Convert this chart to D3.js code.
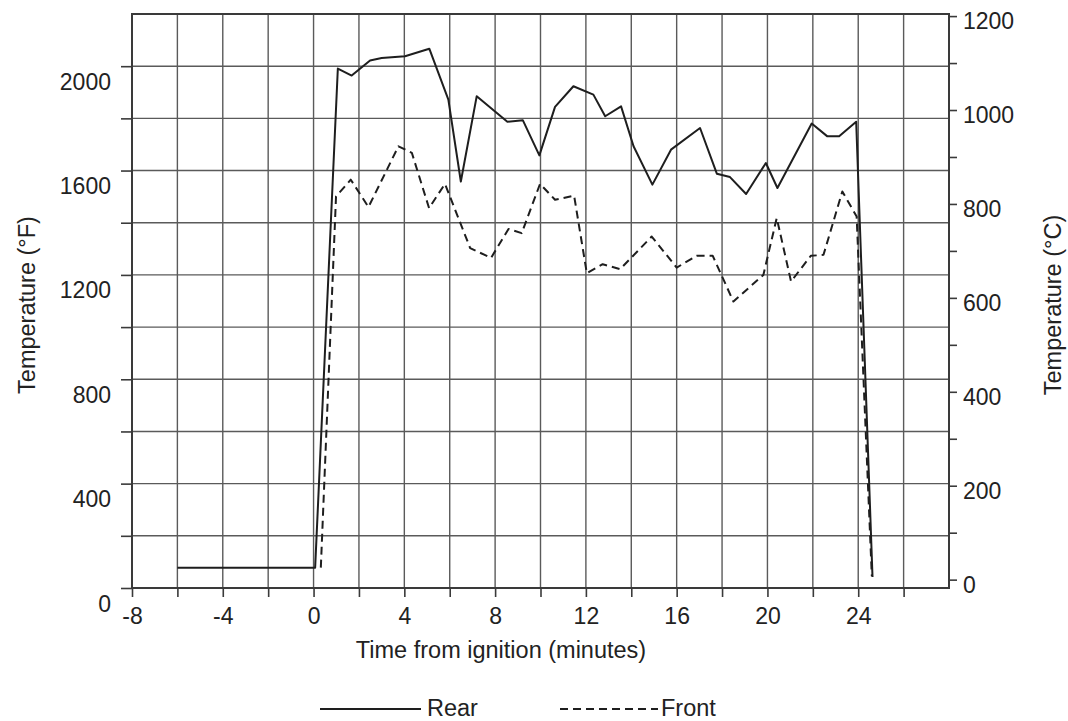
<!DOCTYPE html>
<html>
<head>
<meta charset="utf-8">
<script src="https://cdn.jsdelivr.net/npm/d3@7"></script>
<style>
  html, body { margin: 0; padding: 0; background: #fff; }
  svg { display: block; font-family: "Liberation Sans", Arial, sans-serif; }
</style>
</head>
<body>
<svg id="chart" width="1068" height="721"></svg>
<script>
// ---- Data ----
const rearTime = [-6, 0.07, 1.07, 1.68, 2.49, 3.0, 4.03, 5.1, 5.94, 6.49, 7.19, 8.54, 9.22, 9.95, 10.64, 11.45, 12.33, 12.85, 13.55, 14.1, 14.93, 15.75, 17.03, 17.77, 18.35, 19.06, 19.93, 20.44, 21.95, 22.64, 23.16, 23.91, 24.63];
const rearTemp = [78, 78, 1991, 1964, 2022, 2031, 2038, 2067, 1872, 1558, 1885, 1787, 1793, 1658, 1844, 1923, 1891, 1808, 1846, 1693, 1546, 1680, 1763, 1588, 1575, 1510, 1629, 1533, 1780, 1731, 1731, 1787, 42];

const frontTime = [0.32, 0.99, 1.64, 2.42, 3.74, 4.33, 5.09, 5.79, 6.9, 7.82, 8.59, 9.17, 9.98, 10.64, 11.48, 12.04, 12.74, 13.51, 14.9, 16.0, 16.88, 17.59, 18.5, 19.82, 20.41, 21.04, 21.91, 22.47, 23.3, 23.93, 24.6];
const frontTemp = [78, 1501, 1565, 1460, 1693, 1668, 1456, 1549, 1303, 1265, 1376, 1360, 1549, 1488, 1504, 1207, 1241, 1222, 1347, 1228, 1273, 1273, 1098, 1200, 1418, 1175, 1273, 1277, 1520, 1424, 45];

const xTickValues = [-8, -6, -4, -2, 0, 2, 4, 6, 8, 10, 12, 14, 16, 18, 20, 22, 24, 26];
const xTickLabels = [-8, -4, 0, 4, 8, 12, 16, 20, 24];
const yFTicks = [0, 200, 400, 600, 800, 1000, 1200, 1400, 1600, 1800, 2000];
const yFLabels = [0, 400, 800, 1200, 1600, 2000];
const yCTicks = [0, 100, 200, 300, 400, 500, 600, 700, 800, 900, 1000, 1100, 1200];
const yCLabels = [0, 200, 400, 600, 800, 1000, 1200];

const xTitle = "Time from ignition (minutes)";
const yLeftTitle = "Temperature (°F)";
const yRightTitle = "Temperature (°C)";
const seriesNames = ["Rear", "Front"];

// ---- Layout ----
const pLeft = 132, pRight = 949, pTop = 14, pBottom = 588;
const svg = d3.select("#chart");

const x = d3.scaleLinear().domain([-8, 28]).range([pLeft, pRight]);
const yF = d3.scaleLinear().domain([0, 2200]).range([pBottom, pTop]);
const yC = d3.scaleLinear().domain([(0 - 32) / 1.8, (2200 - 32) / 1.8]).range([pBottom, pTop]);

const gridColor = "#5a5a5a";
const lineColor = "#1e1e1e";
const textColor = "#222";

// Grid
const grid = svg.append("g");
grid.selectAll("line.v").data(d3.range(-6, 28, 2)).join("line").attr("class", "v")
  .attr("x1", d => x(d)).attr("x2", d => x(d))
  .attr("y1", pTop).attr("y2", pBottom)
  .attr("stroke", gridColor).attr("stroke-width", 1.4);
grid.selectAll("line.h").data(d3.range(200, 2200, 200)).join("line").attr("class", "h")
  .attr("x1", pLeft).attr("x2", pRight)
  .attr("y1", d => yF(d)).attr("y2", d => yF(d))
  .attr("stroke", gridColor).attr("stroke-width", 1.4);

// Frame
svg.append("rect").attr("x", pLeft).attr("y", pTop)
  .attr("width", pRight - pLeft).attr("height", pBottom - pTop)
  .attr("fill", "none").attr("stroke", "#3a3a3a").attr("stroke-width", 2);

// X axis
const xAxis = d3.axisBottom(x).tickValues(xTickValues).tickSize(9).tickSizeOuter(0)
  .tickFormat(d => xTickLabels.includes(d) ? d : "");
const gx = svg.append("g").attr("transform", `translate(0,${pBottom})`).call(xAxis);
gx.select(".domain").remove();
gx.selectAll(".tick line").attr("stroke", "#3a3a3a").attr("stroke-width", 1.6);
gx.selectAll(".tick text").attr("fill", textColor).attr("font-size", 23).attr("dy", "1.05em")
  .style("font-family", '"Liberation Sans", Arial, sans-serif');

// Left axis (°F)
const yAxisL = d3.axisLeft(yF).tickValues(yFTicks).tickSize(11).tickSizeOuter(0)
  .tickFormat(d => yFLabels.includes(d) ? d : "");
const gyl = svg.append("g").attr("transform", `translate(${pLeft},0)`).call(yAxisL);
gyl.select(".domain").remove();
gyl.selectAll(".tick line").attr("stroke", "#3a3a3a").attr("stroke-width", 1.6);
gyl.selectAll(".tick text").attr("fill", textColor).attr("font-size", 23)
  .attr("x", -21).attr("dy", "1.0em")
  .style("font-family", '"Liberation Sans", Arial, sans-serif');

// Right axis (°C)
const yAxisR = d3.axisRight(yC).tickValues(yCTicks).tickSize(8).tickSizeOuter(0)
  .tickFormat(d => yCLabels.includes(d) ? d : "");
const gyr = svg.append("g").attr("transform", `translate(${pRight},0)`).call(yAxisR);
gyr.select(".domain").remove();
gyr.selectAll(".tick line").attr("stroke", "#3a3a3a").attr("stroke-width", 1.6);
gyr.selectAll(".tick text").attr("fill", textColor).attr("font-size", 23)
  .attr("x", 14).attr("dy", "0.55em")
  .style("font-family", '"Liberation Sans", Arial, sans-serif');

// Titles
svg.append("text").attr("x", 501).attr("y", 658).attr("text-anchor", "middle")
  .attr("font-size", 23.5).attr("fill", textColor).text(xTitle);
svg.append("text").attr("transform", "translate(35,305) rotate(-90)")
  .attr("text-anchor", "middle").attr("font-size", 23.5).attr("fill", textColor).text(yLeftTitle);
svg.append("text").attr("transform", "translate(1061,305) rotate(-90)")
  .attr("text-anchor", "middle").attr("font-size", 23.5).attr("fill", textColor).text(yRightTitle);

// Series
const line = d3.line().x(d => x(d[0])).y(d => yF(d[1]));
const rear = rearTime.map((t, i) => [t, rearTemp[i]]);
const front = frontTime.map((t, i) => [t, frontTemp[i]]);

svg.append("path").datum(front).attr("d", line)
  .attr("fill", "none").attr("stroke", lineColor).attr("stroke-width", 2)
  .attr("stroke-dasharray", "8,5").attr("stroke-linejoin", "round");
svg.append("path").datum(rear).attr("d", line)
  .attr("fill", "none").attr("stroke", lineColor).attr("stroke-width", 2)
  .attr("stroke-linejoin", "round");

// Legend
const lg = svg.append("g");
lg.append("line").attr("x1", 320).attr("x2", 421).attr("y1", 709).attr("y2", 709)
  .attr("stroke", lineColor).attr("stroke-width", 2.2);
lg.append("text").attr("x", 427).attr("y", 716).attr("font-size", 23.5).attr("fill", textColor).text(seriesNames[0]);
lg.append("line").attr("x1", 560).attr("x2", 658).attr("y1", 709).attr("y2", 709)
  .attr("stroke", lineColor).attr("stroke-width", 2.2).attr("stroke-dasharray", "8,5");
lg.append("text").attr("x", 661).attr("y", 716).attr("font-size", 23.5).attr("fill", textColor).text(seriesNames[1]);
</script>
</body>
</html>
